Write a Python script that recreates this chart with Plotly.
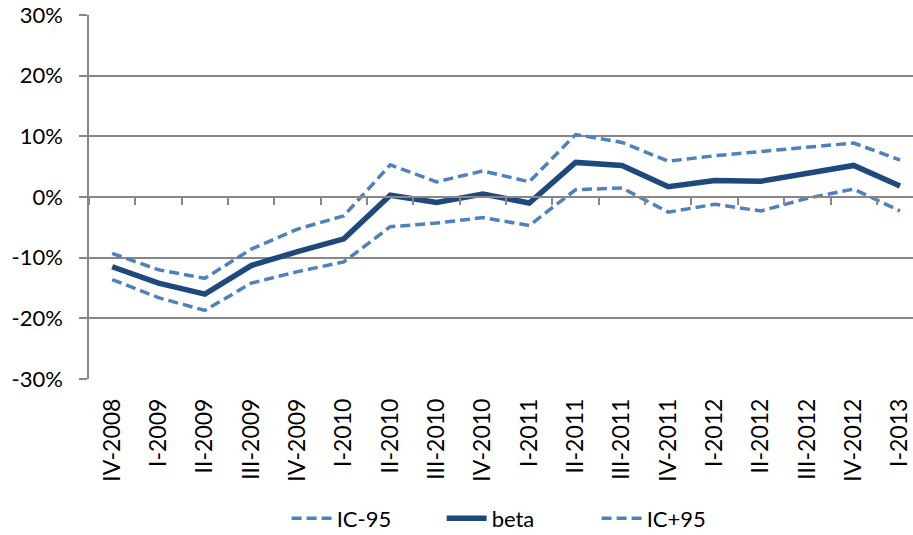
import plotly.graph_objects as go

quarters = ["IV-2008", "I-2009", "II-2009", "III-2009", "IV-2009", "I-2010",
            "II-2010", "III-2010", "IV-2010", "I-2011", "II-2011", "III-2011",
            "IV-2011", "I-2012", "II-2012", "III-2012", "IV-2012", "I-2013"]

beta = [-0.115, -0.142, -0.160, -0.113, -0.090, -0.069, 0.003, -0.009, 0.005,
        -0.010, 0.057, 0.052, 0.017, 0.027, 0.026, 0.039, 0.052, 0.018]

ic_minus_95 = [-0.136, -0.166, -0.187, -0.142, -0.123, -0.107, -0.049, -0.043,
               -0.034, -0.047, 0.012, 0.015, -0.025, -0.012, -0.023, -0.002,
               0.013, -0.023]

ic_plus_95 = [-0.093, -0.120, -0.134, -0.086, -0.053, -0.031, 0.053, 0.025,
              0.043, 0.025, 0.103, 0.090, 0.059, 0.068, 0.075, 0.082, 0.089,
              0.061]

y_ticks = [-0.3, -0.2, -0.1, 0.0, 0.1, 0.2, 0.3]
y_tick_labels = ["-30%", "-20%", "-10%", "0%", "10%", "20%", "30%"]

DARK = "#1F497D"
LIGHT = "#4F81BD"
GRID = "#878787"
FONT = "Lato"

fig = go.Figure()

fig.add_trace(go.Scatter(
    x=quarters, y=ic_minus_95, name="IC-95", mode="lines",
    line=dict(color=LIGHT, width=3.5, dash="10px,5px")))
fig.add_trace(go.Scatter(
    x=quarters, y=beta, name="beta", mode="lines",
    line=dict(color=DARK, width=5.5)))
fig.add_trace(go.Scatter(
    x=quarters, y=ic_plus_95, name="IC+95", mode="lines",
    line=dict(color=LIGHT, width=3.5, dash="10px,5px")))

# helper trace so the category axis drawn at y = 0 has its categories
fig.add_trace(go.Scatter(
    x=quarters, y=[None] * len(quarters), xaxis="x2", mode="lines",
    showlegend=False, hoverinfo="skip"))

x_range = [-0.5, 17.28]

fig.update_layout(
    width=913, height=535,
    margin=dict(l=89, r=0, t=15, b=156, autoexpand=False),
    paper_bgcolor="white", plot_bgcolor="white",
    font=dict(family=FONT, size=22, color="#000000"),
    showlegend=True,
    legend=dict(orientation="h", x=0.522, xanchor="center",
                yref="container", y=0.031, yanchor="middle",
                font=dict(family=FONT, size=22),
                entrywidth=100, itemwidth=40),
    xaxis=dict(
        type="category", categoryarray=quarters, range=x_range,
        showgrid=False, showline=False, zeroline=False, ticks="",
        tickangle=-90, ticklabelstandoff=14, automargin=False,
        tickfont=dict(family=FONT, size=23, color="#000000")),
    xaxis2=dict(
        type="category", categoryarray=quarters, range=x_range,
        overlaying="x", anchor="free", position=0.5, side="bottom",
        showgrid=False, zeroline=False, showline=True,
        linecolor=GRID, linewidth=1.5, automargin=False,
        ticks="outside", tickson="boundaries", ticklen=7,
        tickcolor=GRID, tickwidth=1.5, showticklabels=False),
    yaxis=dict(
        range=[-0.3, 0.3], tickvals=y_ticks, ticktext=y_tick_labels,
        showgrid=True, gridcolor=GRID, gridwidth=1.5, zeroline=False,
        showline=True, linecolor=GRID, linewidth=1.5, automargin=False,
        ticks="outside", ticklen=8, tickcolor=GRID, tickwidth=1.5,
        ticklabelstandoff=12,
        tickfont=dict(family=FONT, size=22, color="#000000")),
)

fig.write_html("out.html")
